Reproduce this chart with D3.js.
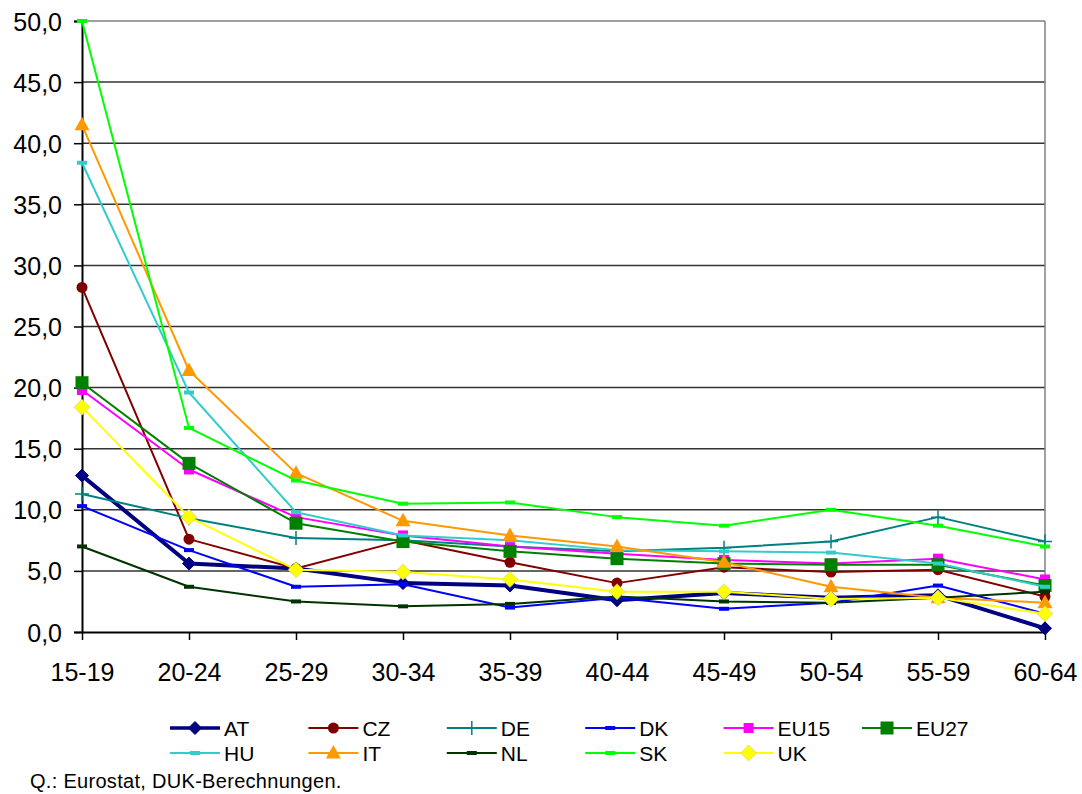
<!DOCTYPE html>
<html><head><meta charset="utf-8">
<script src="https://cdn.jsdelivr.net/npm/d3@7"></script>
<style>body{margin:0;background:#fff;} text{font-family:"Liberation Sans",Arial,sans-serif;}</style>
</head><body>
<svg id="c" width="1082" height="794"></svg>
<script>
const categories = ["15-19","20-24","25-29","30-34","35-39","40-44","45-49","50-54","55-59","60-64"];
const yTicks = [0,5,10,15,20,25,30,35,40,45,50];
const AT   = [12.8, 5.6, 5.2, 4.0, 3.8, 2.6, 3.2, 2.8, 3.0, 0.3];
const CZ   = [28.2, 7.6, 5.2, 7.5, 5.7, 4.0, 5.3, 4.9, 5.1, 2.9];
const DE   = [11.3, 9.3, 7.7, 7.5, 7.0, 6.6, 6.9, 7.4, 9.4, 7.4];
const DK   = [10.3, 6.7, 3.7, 3.9, 2.0, 2.8, 1.9, 2.4, 3.8, 1.5];
const EU15 = [19.8, 13.3, 9.4, 7.9, 7.0, 6.4, 5.9, 5.6, 6.0, 4.3];
const EU27 = [20.4, 13.8, 8.9, 7.4, 6.6, 6.0, 5.6, 5.5, 5.5, 3.8];
const HU   = [38.4, 19.6, 9.8, 7.9, 7.5, 6.7, 6.6, 6.5, 5.6, 3.7];
const IT   = [41.5, 21.4, 13.0, 9.1, 7.9, 7.0, 5.7, 3.7, 2.8, 2.4];
const NL   = [7.0, 3.7, 2.5, 2.1, 2.3, 2.9, 2.5, 2.4, 2.8, 3.3];
const SK   = [50.0, 16.7, 12.4, 10.5, 10.6, 9.4, 8.7, 10.0, 8.7, 7.0];
const UK   = [18.4, 9.4, 5.1, 4.9, 4.3, 3.3, 3.3, 2.7, 2.8, 1.5];
const seriesNames = ["AT","CZ","DE","DK","EU15","EU27","HU","IT","NL","SK","UK"];
const seriesValues = [AT,CZ,DE,DK,EU15,EU27,HU,IT,NL,SK,UK];
const colors = ["#000080","#800000","#008080","#0000FF","#FF00FF","#008000","#33CCCC","#FF9900","#003300","#00FF00","#FFFF00"];
const markers = ["diamond","circle","plus","dash","square","bigsquare","dash","triangle","dash","dash","bigdiamond"];
const widths = [4,2,2,2,2,2,2,2,2,2,2];

const svg = d3.select("#c");
const L=82, R=1045, T=21, B=632;
const x = d3.scalePoint().domain(categories).range([L,R]);
const y = d3.scaleLinear().domain([0,50]).range([B,T]);

// grid
svg.append("g").selectAll("line").data(yTicks.slice(1)).join("line")
  .attr("x1",L).attr("x2",R).attr("y1",d=>y(d)).attr("y2",d=>y(d))
  .attr("stroke",d=>d===50?"#808080":"#333").attr("stroke-width",1.5);
svg.append("line").attr("x1",R).attr("x2",R).attr("y1",T).attr("y2",B).attr("stroke","#808080").attr("stroke-width",1.5);

const yAxis = svg.append("g").attr("transform",`translate(${L},0)`)
  .call(d3.axisLeft(y).tickValues(yTicks).tickSize(8).tickPadding(12).tickFormat(d=>d3.format(".1f")(d).replace(".",",")));
yAxis.select(".domain").attr("stroke","#000").attr("stroke-width",2);
yAxis.selectAll("line").attr("stroke","#000").attr("stroke-width",1.5);
yAxis.selectAll("text").attr("font-size",25).attr("fill","#000").attr("dy","0.36em");

const xAxis = svg.append("g").attr("transform",`translate(0,${B})`)
  .call(d3.axisBottom(x).tickSize(8).tickPadding(23).tickSizeOuter(0));
xAxis.select(".domain").attr("stroke","#000").attr("stroke-width",2);
xAxis.selectAll("line").attr("stroke","#000").attr("stroke-width",1.5);
xAxis.selectAll("text").attr("font-size",25).attr("fill","#000");

function drawMarker(g, type, color, cx, cy){
  if(type==="diamond"){ g.append("path").attr("d",`M${cx},${cy-6.5}L${cx+6.5},${cy}L${cx},${cy+6.5}L${cx-6.5},${cy}Z`).attr("fill",color).attr("stroke",color); }
  else if(type==="bigdiamond"){ g.append("path").attr("d",`M${cx},${cy-8}L${cx+8},${cy}L${cx},${cy+8}L${cx-8},${cy}Z`).attr("fill",color).attr("stroke","#bbb").attr("stroke-width",0.5); }
  else if(type==="circle"){ g.append("circle").attr("cx",cx).attr("cy",cy).attr("r",5.5).attr("fill",color); }
  else if(type==="plus"){ g.append("path").attr("d",`M${cx-7},${cy}H${cx+7}M${cx},${cy-7}V${cy+7}`).attr("stroke",color).attr("stroke-width",1.5); }
  else if(type==="dash"){ g.append("rect").attr("x",cx-5).attr("y",cy-2).attr("width",10).attr("height",4).attr("fill",color); }
  else if(type==="square"){ g.append("rect").attr("x",cx-5).attr("y",cy-5).attr("width",10).attr("height",10).attr("fill",color); }
  else if(type==="bigsquare"){ g.append("rect").attr("x",cx-6.5).attr("y",cy-6.5).attr("width",13).attr("height",13).attr("fill",color); }
  else if(type==="triangle"){ g.append("path").attr("d",`M${cx},${cy-8}L${cx+7.5},${cy+5.5}L${cx-7.5},${cy+5.5}Z`).attr("fill",color); }
}

const line = d3.line().x((d,i)=>x(categories[i])).y(d=>y(d));
const plot = svg.append("g");
seriesNames.forEach((n,si)=>{
  plot.append("path").datum(seriesValues[si]).attr("d",line).attr("fill","none")
    .attr("stroke",colors[si]).attr("stroke-width",widths[si]).attr("stroke-linejoin","round");
  const mg = plot.append("g");
  seriesValues[si].forEach((v,i)=>drawMarker(mg, markers[si], colors[si], x(categories[i]), y(v)));
});

// legend
const leg = svg.append("g");
seriesNames.forEach((n,si)=>{
  const col = si<6 ? si : si-6, row = si<6?0:1;
  const lx = 170 + col*138.4, ly = 728 + row*25;
  leg.append("line").attr("x1",lx).attr("x2",lx+50).attr("y1",ly).attr("y2",ly).attr("stroke",colors[si]).attr("stroke-width",widths[si]===4?3.5:2);
  drawMarker(leg, markers[si], colors[si], lx+25, ly);
  leg.append("text").attr("x",lx+54).attr("y",ly).attr("dy","0.36em").attr("font-size",21).text(n);
});

svg.append("text").attr("x",30).attr("y",788).attr("font-size",20).attr("letter-spacing","0.3").text("Q.: Eurostat, DUK-Berechnungen.");
</script>
</body></html>
